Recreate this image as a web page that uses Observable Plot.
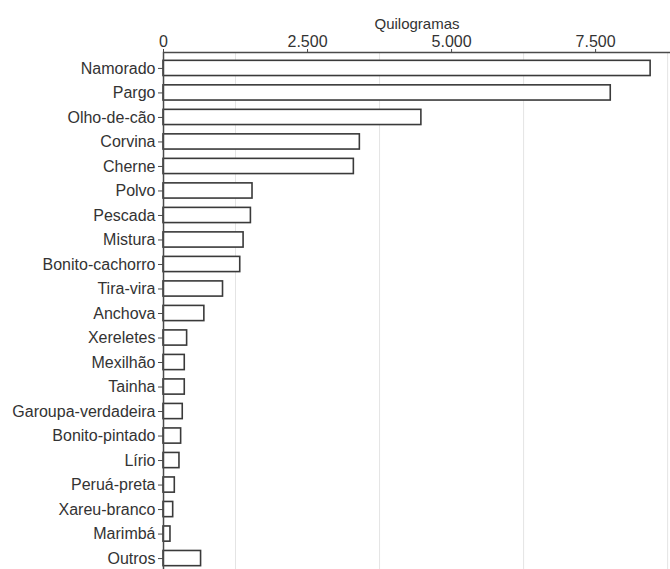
<!DOCTYPE html>
<html>
<head>
<meta charset="utf-8">
<script src="https://cdn.jsdelivr.net/npm/d3@7"></script>
<script src="https://cdn.jsdelivr.net/npm/@observablehq/plot@0.6"></script>
<style>
  html, body { margin: 0; padding: 0; background: #fff; }
</style>
</head>
<body>
<div id="chart"></div>
<script>
const species = ["Namorado","Pargo","Olho-de-cão","Corvina","Cherne","Polvo","Pescada","Mistura","Bonito-cachorro","Tira-vira","Anchova","Xereletes","Mexilhão","Tainha","Garoupa-verdadeira","Bonito-pintado","Lírio","Peruá-preta","Xareu-branco","Marimbá","Outros"];
const kg = [8455,7763,4476,3408,3304,1545,1517,1390,1332,1033,709,410,369,369,334,306,277,196,168,121,652];
const xTicks = [0,2500,5000,7500];
const gridValues = [1250,3750,6250,8750];
const axisTitle = "Quilogramas";

const data = species.map((s, i) => ({species: s, kg: kg[i]}));
const fmt = d => d3.format(",")(d).replace(/,/g, ".");

const chart = Plot.plot({
  width: 670,
  height: 569,
  marginTop: 52,
  marginLeft: 163,
  marginRight: 0,
  marginBottom: 0,
  style: {fontFamily: "'Liberation Sans', Arial, sans-serif", fontSize: "16px", color: "#333", background: "#fff"},
  x: {domain: [0, 8800]},
  y: {domain: species, range: [52, 574], paddingInner: 0.38, paddingOuter: 0.34, round: false},
  marks: [
    Plot.gridX(gridValues, {stroke: "#e4e4e4", strokeOpacity: 1}),
    Plot.barX(data, {x: "kg", y: "species", fill: "#fff", stroke: "#3a3a3a", strokeWidth: 1.6}),
    Plot.frame({stroke: "#4a4a4a", strokeWidth: 1.5, insetRight: -4, insetBottom: -4}),
    Plot.axisX(xTicks, {anchor: "top", tickSize: 4, tickPadding: 2, tickFormat: fmt, label: null, stroke: "#4a4a4a"}),
    Plot.axisY({tickSize: 5, tickPadding: 3, label: null, stroke: "#4a4a4a"}),
    Plot.text([axisTitle], {frameAnchor: "top", dy: -34, fontSize: 15, fill: "#333"})
  ]
});
document.getElementById("chart").appendChild(chart);
</script>
</body>
</html>
